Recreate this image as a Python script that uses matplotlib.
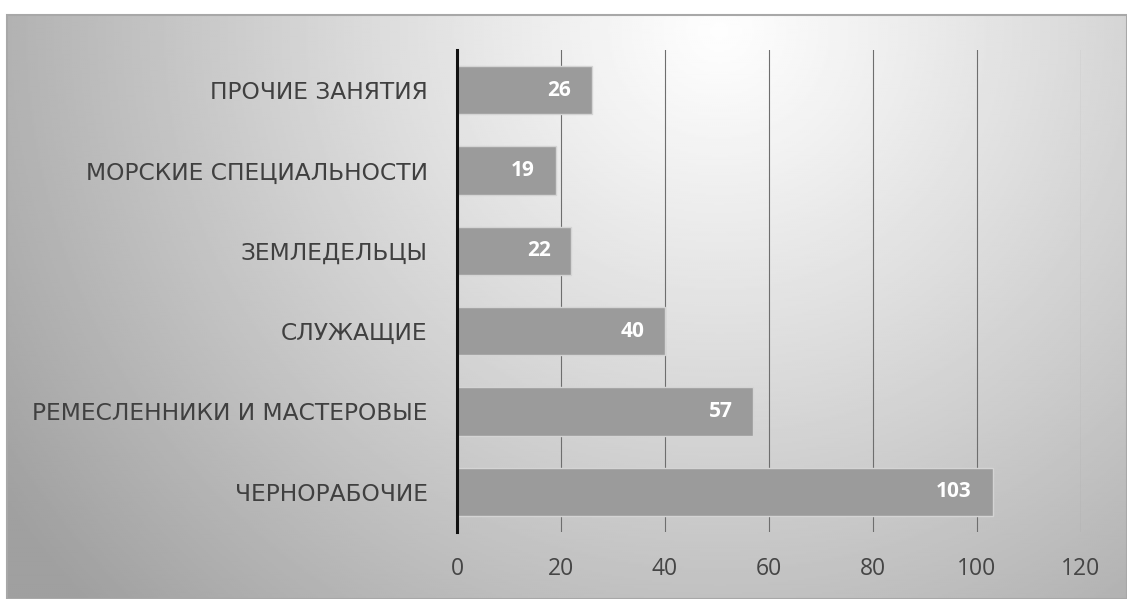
import numpy as np
import matplotlib
matplotlib.use("Agg")
import matplotlib.pyplot as plt

categories = ["ЧЕРНОРАБОЧИЕ", "РЕМЕСЛЕННИКИ И МАСТЕРОВЫЕ", "СЛУЖАЩИЕ",
              "ЗЕМЛЕДЕЛЬЦЫ", "МОРСКИЕ СПЕЦИАЛЬНОСТИ", "ПРОЧИЕ ЗАНЯТИЯ"]
values = [103, 57, 40, 22, 19, 26]
xticks = [0, 20, 40, 60, 80, 100, 120]

W, H = 1127, 599
fig = plt.figure(figsize=(W / 100, H / 100), dpi=100)
fig.patch.set_facecolor("white")

# gradient background panel
bg = fig.add_axes([7 / W, 0, 1 - 7 / W, 1 - 15 / H])
bg.set_axis_off()
nx, ny = 560, 290
xx, yy = np.meshgrid(np.linspace(7, W, nx), np.linspace(15, H, ny))
cx, cy = 720, 30
d = np.sqrt(((xx - cx) / 720) ** 2 + ((yy - cy) / 700) ** 2)
val = 0.995 - 0.30 * np.clip(d, 0, 1.2) ** 1.1
bg.imshow(val, cmap="gray", vmin=0, vmax=1, aspect="auto", extent=[0, 1, 0, 1],
          interpolation="bilinear")
bg.set_xlim(0, 1)
bg.set_ylim(0, 1)
frame = plt.Rectangle((7 / W, 0), 1 - 7 / W, 1 - 15 / H, transform=fig.transFigure,
                      fill=False, edgecolor="#a8a8a8", linewidth=1.5, zorder=5)
fig.patches.append(frame)

# main axes: x 0 at 457px, 120 at 1081px; y from 50 to 532
x0, x1 = 457, 1081
y_top, y_bot = 50, 532
ax = fig.add_axes([x0 / W, 1 - y_bot / H, (x1 - x0) / W, (y_bot - y_top) / H])
ax.patch.set_alpha(0)
ax.set_xlim(0, 120)
ax.set_ylim(-0.5, len(categories) - 0.5)

ypos = np.arange(len(categories))
ax.barh(ypos, values, height=0.6, color="#9b9b9b", edgecolor="#d4d4d4",
        linewidth=1.0, zorder=3)
for y, v in zip(ypos, values):
    ax.text(v - 4.0, y, str(v), ha="right", va="center", color="white",
            fontsize=15, fontweight="bold", family="Open Sans", zorder=4)

ax.set_xticks(xticks)
ax.set_xticklabels([str(t) for t in xticks], fontsize=16.5, color="#454545",
                   family="Open Sans")
ax.set_yticks(ypos)
ax.set_yticklabels(categories, fontsize=16.8, color="#404040", family="DejaVu Sans")
ax.tick_params(axis="x", length=0, pad=18)
ax.tick_params(axis="y", length=0, pad=21)
ax.grid(axis="x", color="#6e6e6e", linewidth=0.8, zorder=1)
ax.set_axisbelow(True)
for s in ["top", "right", "bottom"]:
    ax.spines[s].set_visible(False)
ax.spines["left"].set_color("#111111")
ax.spines["left"].set_linewidth(2.2)
ax.spines["left"].set_zorder(5)

fig.savefig("out.png", dpi=100)
